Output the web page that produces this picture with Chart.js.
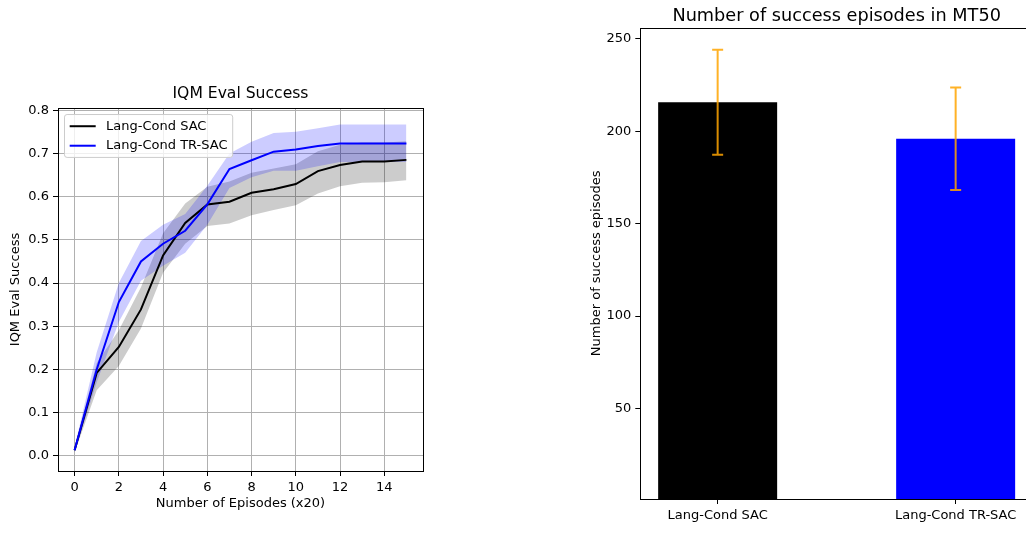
<!DOCTYPE html>
<html>
<head>
<meta charset="utf-8">
<script src="https://cdn.jsdelivr.net/npm/chart.js@4.4.0/dist/chart.umd.min.js"></script>
<style>
html, body { margin: 0; padding: 0; background: #fff; overflow: hidden; width: 1026px; height: 541px; }
#left { position: absolute; left: 0; top: 0; }
#right { position: absolute; left: 580px; top: 0; }
</style>
</head>
<body>
<canvas id="left" width="450" height="541"></canvas>
<canvas id="right" width="460" height="541"></canvas>
<script>
// left plot: IQM eval success over episodes
const episodes = [0, 1, 2, 3, 4, 5, 6, 7, 8, 9, 10, 11, 12, 13, 14, 15];
const seriesNames = ["Lang-Cond SAC", "Lang-Cond TR-SAC"];
const sacMean = [0.013, 0.192, 0.252, 0.339, 0.464, 0.539, 0.582, 0.588, 0.609, 0.617, 0.629, 0.659, 0.673, 0.681, 0.681, 0.685];
const sacHigh = [0.020, 0.215, 0.291, 0.390, 0.515, 0.584, 0.623, 0.635, 0.655, 0.665, 0.675, 0.705, 0.720, 0.725, 0.725, 0.728];
const sacLow  = [0.008, 0.152, 0.208, 0.295, 0.424, 0.491, 0.532, 0.538, 0.557, 0.569, 0.580, 0.607, 0.624, 0.632, 0.633, 0.638];
const trMean  = [0.013, 0.200, 0.356, 0.450, 0.491, 0.521, 0.582, 0.664, 0.684, 0.704, 0.709, 0.717, 0.723, 0.723, 0.723, 0.723];
const trHigh  = [0.020, 0.240, 0.400, 0.497, 0.535, 0.560, 0.625, 0.700, 0.727, 0.747, 0.750, 0.758, 0.767, 0.767, 0.767, 0.767];
const trLow   = [0.008, 0.170, 0.310, 0.405, 0.440, 0.470, 0.535, 0.620, 0.645, 0.660, 0.660, 0.670, 0.680, 0.680, 0.680, 0.680];

// right plot: success episodes in MT50
const barLabels = ["Lang-Cond SAC", "Lang-Cond TR-SAC"];
const barValues = [215.7, 195.9];
const barErrors = [28.4, 27.7];

const seriesColors = ["black", "blue"];
const FONT = "DejaVu Sans";
Chart.defaults.font.family = FONT;
Chart.defaults.color = "#000";

const pts = arr => episodes.map((e, i) => ({ x: e, y: arr[i] }));

// draws the full axes box like matplotlib spines
const frame = {
    id: "frame",
    afterDraw(chart) {
        const a = chart.chartArea, ctx = chart.ctx;
        ctx.save();
        ctx.strokeStyle = "#000";
        ctx.lineWidth = 1;
        ctx.strokeRect(Math.round(a.left) + 0.5, Math.round(a.top) + 0.5,
            Math.round(a.right - a.left), Math.round(a.bottom - a.top));
        ctx.restore();
    }
};

const legendBox = {
    id: "legendBox",
    afterDatasetsDraw(chart) {
        const a = chart.chartArea, ctx = chart.ctx;
        const fs = 13;
        ctx.save();
        ctx.font = fs + "px '" + FONT + "'";
        const textW = Math.max(...seriesNames.map(s => ctx.measureText(s).width));
        const pad = 0.4 * fs, handle = 2 * fs, gap = 0.8 * fs, spacing = 0.5 * fs;
        const x = a.left + 0.5 * fs, y = a.top + 0.5 * fs;
        const w = pad + handle + gap + textW + pad;
        const h = 2 * pad + seriesNames.length * fs + (seriesNames.length - 1) * spacing;
        ctx.beginPath();
        ctx.roundRect(x, y, w, h, 0.2 * fs);
        ctx.fillStyle = "rgba(255,255,255,0.8)";
        ctx.fill();
        ctx.strokeStyle = "#cccccc";
        ctx.lineWidth = 1;
        ctx.stroke();
        seriesNames.forEach((name, i) => {
            const cy = y + pad + fs / 2 + i * (fs + spacing);
            ctx.beginPath();
            ctx.moveTo(x + pad, cy);
            ctx.lineTo(x + pad + handle, cy);
            ctx.strokeStyle = seriesColors[i];
            ctx.lineWidth = 2;
            ctx.stroke();
            ctx.fillStyle = "#000";
            ctx.textBaseline = "middle";
            ctx.fillText(name, x + pad + handle + gap, cy);
        });
        ctx.restore();
    }
};

const errorBars = {
    id: "errorBars",
    afterDatasetsDraw(chart) {
        const ctx = chart.ctx, ys = chart.scales.y;
        const meta = chart.getDatasetMeta(0);
        ctx.save();
        ctx.strokeStyle = "rgba(255,165,0,0.85)";
        ctx.lineWidth = 2;
        meta.data.forEach((bar, i) => {
            const top = ys.getPixelForValue(barValues[i] + barErrors[i]);
            const bot = ys.getPixelForValue(barValues[i] - barErrors[i]);
            ctx.beginPath();
            ctx.moveTo(bar.x, top); ctx.lineTo(bar.x, bot);
            ctx.moveTo(bar.x - 5.5, top); ctx.lineTo(bar.x + 5.5, top);
            ctx.moveTo(bar.x - 5.5, bot); ctx.lineTo(bar.x + 5.5, bot);
            ctx.stroke();
        });
        ctx.restore();
    }
};

const lineDs = (label, data, color) => ({
    label, data: pts(data), borderColor: color, borderWidth: 2,
    pointRadius: 0, tension: 0, fill: false
});
const bandDs = (data, fill, bg) => ({
    data: pts(data), borderColor: "rgba(0,0,0,0)", borderWidth: 0,
    pointRadius: 0, tension: 0, fill: fill, backgroundColor: bg
});

new Chart(document.getElementById("left"), {
    type: "line",
    data: {
        datasets: [
            lineDs(seriesNames[1], trMean, seriesColors[1]),
            lineDs(seriesNames[0], sacMean, seriesColors[0]),
            bandDs(trHigh, false, "rgba(0,0,255,0.2)"),
            bandDs(trLow, "-1", "rgba(0,0,255,0.2)"),
            bandDs(sacHigh, false, "rgba(0,0,0,0.2)"),
            bandDs(sacLow, "-1", "rgba(0,0,0,0.2)")
        ]
    },
    options: {
        responsive: false,
        animation: false,
        layout: { padding: { left: 0, right: 27, top: 0, bottom: 0 } },
        plugins: {
            legend: { display: false },
            tooltip: { enabled: false },
            filler: { drawTime: "beforeDatasetsDraw" },
            title: {
                display: true, text: "IQM Eval Success", fullSize: false,
                font: { size: 15.6, weight: "normal" }, color: "#000",
                padding: { top: 84.1, bottom: 5.2 }
            }
        },
        scales: {
            x: {
                type: "linear", min: -0.75, max: 15.75,
                ticks: { stepSize: 2, includeBounds: false, font: { size: 13 }, color: "#000", padding: 4, maxRotation: 0 },
                grid: { color: "#b0b0b0", lineWidth: 1, tickColor: "#000", tickLength: 5 },
                border: { display: false },
                title: { display: true, text: "Number of Episodes (x20)", font: { size: 13 }, color: "#000", padding: { top: 0, bottom: 29.2 } },
                afterFit(s) { s.height = 70; }
            },
            y: {
                type: "linear", min: -0.035, max: 0.805,
                ticks: { stepSize: 0.1, includeBounds: false, font: { size: 13 }, color: "#000", padding: 4,
                    callback: v => v.toFixed(1) },
                grid: { color: "#b0b0b0", lineWidth: 1, tickColor: "#000", tickLength: 5 },
                border: { display: false },
                title: { display: true, text: "IQM Eval Success", font: { size: 13 }, color: "#000", padding: { top: 8.2, bottom: 0 } },
                afterFit(s) { s.width = 58; }
            }
        }
    },
    plugins: [legendBox, frame]
});

new Chart(document.getElementById("right"), {
    type: "bar",
    data: {
        datasets: [{
            data: barValues.map((v, i) => ({ x: i, y: v })),
            backgroundColor: seriesColors,
            borderWidth: 0,
            barPercentage: 1,
            categoryPercentage: 0.5
        }]
    },
    options: {
        responsive: false,
        animation: false,
        layout: { padding: { left: 0, right: 7, top: 0, bottom: 0 } },
        plugins: {
            legend: { display: false },
            tooltip: { enabled: false },
            title: {
                display: true, text: "Number of success episodes in MT50", fullSize: false,
                font: { size: 17.7, weight: "normal" }, color: "#000",
                padding: { top: 5.6, bottom: 0.9 }
            }
        },
        scales: {
            x: {
                type: "linear", min: -0.325, max: 1.325, offset: false,
                ticks: { stepSize: 1, includeBounds: false, font: { size: 13 }, color: "#000", padding: 4, maxRotation: 0,
                    callback: v => barLabels[v] ?? "" },
                grid: { offset: false, drawOnChartArea: false, tickColor: "#000", tickLength: 5 },
                border: { display: false },
                afterFit(s) { s.height = 42; }
            },
            y: {
                type: "linear", min: 1, max: 256,
                ticks: { stepSize: 50, includeBounds: false, font: { size: 13 }, color: "#000", padding: 4 },
                grid: { drawOnChartArea: false, tickColor: "#000", tickLength: 5 },
                border: { display: false },
                title: { display: true, text: "Number of success episodes", font: { size: 13 }, color: "#000", padding: { top: 8.9, bottom: 0 } },
                afterFit(s) { s.width = 60.3; }
            }
        }
    },
    plugins: [errorBars, frame]
});
</script>
</body>
</html>
